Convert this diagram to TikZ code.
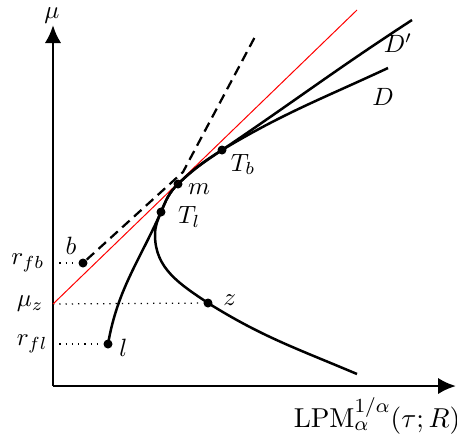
\documentclass[tikz,border=0pt]{standalone}
\usepackage{amsmath,amssymb}
\usepackage{tikz}
\usetikzlibrary{arrows.meta,positioning,calc}

\begin{document}
\begin{tikzpicture}[x=0.4pt, y=-0.4pt,
  axis/.style  = {-{Latex[length=7.2pt,width=6.6pt]}, line width=1.15pt},
  curve/.style = {line width=1pt},
  dot/.style   = {circle, fill, inner sep=0pt, minimum size=3.6pt},
  lbl/.style   = {inner sep=0pt, font=\normalsize},
  guide/.style = {dotted, line width=0.5pt},
  tang/.style  = {red, line width=0.4pt},
  chord/.style = {line width=0.9pt, dash pattern=on 4pt off 2.4pt}
]
\useasboundingbox (0,0) rectangle (457,436);

% , - Axes , -
\coordinate (O)    at (53,386);
\coordinate (ytop) at (53,25);
\coordinate (xend) at (456,386);
\draw[axis] (O) -- (ytop);
\draw[axis] (O) -- (xend);
\node[lbl] (mulbl) at (52,16) {$\mu$};
\node[lbl, font=\fontsize{10.95}{13}\selectfont] (xlbl) at (377,416)
     {$\mathrm{LPM}_{\alpha}^{1/\alpha}(\tau;R)$};

% , - Levels on the mu axis , -
\coordinate (rfb) at (53,263);
\coordinate (muz) at (53,304);
\coordinate (rfl) at (53,344);
\node[lbl, left=3.2pt of rfb] (rfblbl) {$r_{fb}$};
\node[lbl, left=3.6pt of muz] (muzlbl) {$\mu_z$};
\node[lbl, left=2pt of rfl]   (rfllbl) {$r_{fl}$};

% , - Points , -
\node[dot] (b)  at (83,263)  {};
\node[dot] (l)  at (108,344) {};
\node[dot] (z)  at (208,303) {};
\node[dot] (Tl) at (161,212) {};
\node[dot] (m)  at (178,184) {};
\node[dot] (Tb) at (222,150) {};

\node[lbl, above left=1.6pt and 1pt of b]    (blbl)  {$b$};
\node[lbl, right=2.3pt of l, yshift=-1.6pt]  (llbl)  {$l$};
\node[lbl, right=3.9pt of z, yshift=1.2pt]   (zlbl)  {$z$};
\node[lbl, right=4.6pt of Tl, yshift=-2pt]   (Tllbl) {$T_l$};
\node[lbl, right=1.8pt of m, yshift=-2pt]    (mlbl)  {$m$};
\node[lbl, below right=0pt and 1.9pt of Tb]  (Tblbl) {$T_b$};

% , - Guides to the axis , -
\draw[guide] (rfb) -- (b);
\draw[guide] (muz) -- (z);
\draw[guide] (rfl) -- (l);

% , - Tangent from mu_z through m , -
\coordinate (redend) at (357,10);
\draw[tang] (muz) -- (redend);

% , - Dashed line from b , -
\coordinate (kink) at (183,172);
\coordinate (dtop) at (257,33);
\draw[chord] (b) -- (kink) -- (dtop);

% , - Frontiers , -
\coordinate (Dpend) at (412,20);
\coordinate (Dend)  at (388,68);
\coordinate (zend)  at (357,374);
\coordinate (vert)  at (155,235);
\draw[curve] (l.center) to[out=80,in=246] (Tl.center) to[out=67,in=224] (m.center)
             to[out=44,in=214] (Tb.center) to[out=34,in=213] (Dpend);
\draw[curve] (zend) to[out=157,in=-32] (z.center) to[out=146,in=-90] (vert)
             to[out=90,in=248] (Tl.center) to[out=67,in=224] (m.center)
             to[out=44,in=212] (Tb.center) to[out=31,in=205] (Dend);
\node[lbl] (Dplbl) at (398,43) {$D'$};
\node[lbl] (Dlbl)  at (383,97) {$D$};

\end{tikzpicture}
\end{document}
